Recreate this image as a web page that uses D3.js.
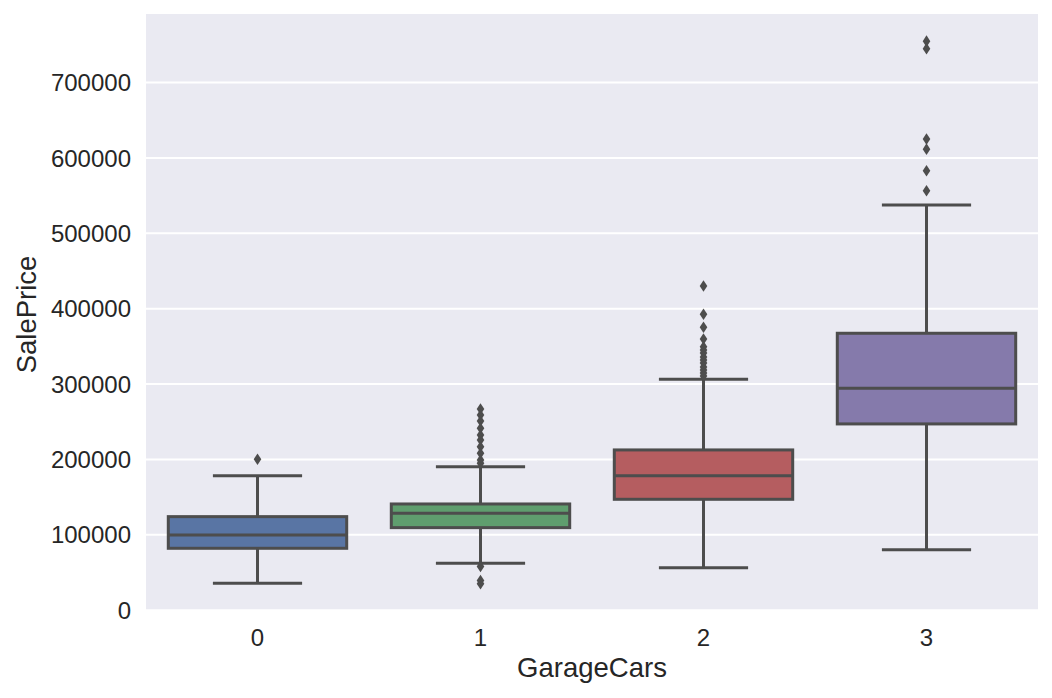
<!DOCTYPE html>
<html>
<head>
<meta charset="utf-8">
<script src="https://cdn.jsdelivr.net/npm/d3@7"></script>
<style>
  body { margin: 0; background: #fff; }
  svg text { font-family: "Liberation Sans", Arial, sans-serif; fill: #262626; }
</style>
</head>
<body>
<svg id="chart" width="1052" height="698"></svg>
<script>
// box stats, one entry per GarageCars value
const categories = ['0', '1', '2', '3']
const q1 = [82100, 109500, 147100, 247100]
const medians = [99800, 128600, 178500, 294400]
const q3 = [124100, 140900, 212600, 367400]
const whiskerLow = [35700, 62200, 56400, 80300]
const whiskerHigh = [178500, 190400, 306400, 537600]
const outliers = [
  [200200],
  [266900, 259000, 251000, 241300, 232400, 225800, 216900, 208200, 199300, 194900, 58000, 39300, 35000],
  [430200, 392600, 375400, 359800, 349600, 345200, 341200, 335900, 331900, 327900, 322600, 318600, 314600, 310600],
  [755000, 745000, 625000, 611657, 582933, 556581]
]
const yTicks = [0, 100000, 200000, 300000, 400000, 500000, 600000, 700000]
const colors = ['#5975a4', '#5f9e6e', '#b55d60', '#857aab']

const svg = d3.select('#chart')
const plotLeft = 146, plotRight = 1038, plotTop = 14, plotBottom = 611
const lineColor = '#4d4d4d'

const x = d3.scaleBand(categories, [plotLeft, plotRight]).paddingInner(0.2).paddingOuter(0.1)
const y = d3.scaleLinear([-1105, 791005], [plotBottom, plotTop])

svg.append('rect')
  .attr('x', plotLeft).attr('y', plotTop)
  .attr('width', plotRight - plotLeft).attr('height', plotBottom - plotTop)
  .attr('fill', '#eaeaf2')

// grid
svg.append('g').selectAll('line').data(yTicks).join('line')
  .attr('x1', plotLeft).attr('x2', plotRight)
  .attr('y1', d => y(d)).attr('y2', d => y(d))
  .attr('stroke', '#fff').attr('stroke-width', 2)

// y ticks
svg.append('g').selectAll('text').data(yTicks).join('text')
  .attr('x', 131).attr('y', d => y(d))
  .attr('dy', '0.36em')
  .attr('text-anchor', 'end')
  .attr('font-size', 24)
  .text(d => d)

// x ticks
svg.append('g').selectAll('text').data(categories).join('text')
  .attr('x', d => x(d) + x.bandwidth() / 2)
  .attr('y', 646)
  .attr('text-anchor', 'middle')
  .attr('font-size', 24)
  .text(d => d)

svg.append('text')
  .attr('x', (plotLeft + plotRight) / 2).attr('y', 677)
  .attr('text-anchor', 'middle')
  .attr('font-size', 27.5)
  .text('GarageCars')

svg.append('text')
  .attr('transform', `translate(36,${(plotTop + plotBottom) / 2 + 2}) rotate(-90)`)
  .attr('text-anchor', 'middle')
  .attr('font-size', 27.5)
  .text('SalePrice')

const boxes = svg.append('g').selectAll('g').data(categories).join('g')

boxes.each(function (c, i) {
  const g = d3.select(this)
  const x0 = x(c), w = x.bandwidth(), cx = x0 + w / 2, cap = w / 4
  // whiskers
  g.append('line').attr('x1', cx).attr('x2', cx)
    .attr('y1', y(q3[i])).attr('y2', y(whiskerHigh[i]))
  g.append('line').attr('x1', cx).attr('x2', cx)
    .attr('y1', y(q1[i])).attr('y2', y(whiskerLow[i]))
  g.append('line').attr('x1', cx - cap).attr('x2', cx + cap)
    .attr('y1', y(whiskerHigh[i])).attr('y2', y(whiskerHigh[i]))
  g.append('line').attr('x1', cx - cap).attr('x2', cx + cap)
    .attr('y1', y(whiskerLow[i])).attr('y2', y(whiskerLow[i]))
  g.selectAll('line').attr('stroke', lineColor).attr('stroke-width', 3)
  g.append('rect')
    .attr('x', x0).attr('width', w)
    .attr('y', y(q3[i])).attr('height', y(q1[i]) - y(q3[i]))
    .attr('fill', colors[i]).attr('stroke', lineColor).attr('stroke-width', 3)
  g.append('line').attr('x1', x0).attr('x2', x0 + w)
    .attr('y1', y(medians[i])).attr('y2', y(medians[i]))
    .attr('stroke', lineColor).attr('stroke-width', 3)
  g.selectAll('path').data(outliers[i]).join('path')
    .attr('d', d => `M${cx},${y(d) - 5.8}L${cx + 3.8},${y(d)}L${cx},${y(d) + 5.8}L${cx - 3.8},${y(d)}Z`)
    .attr('fill', lineColor)
})
</script>
</body>
</html>
